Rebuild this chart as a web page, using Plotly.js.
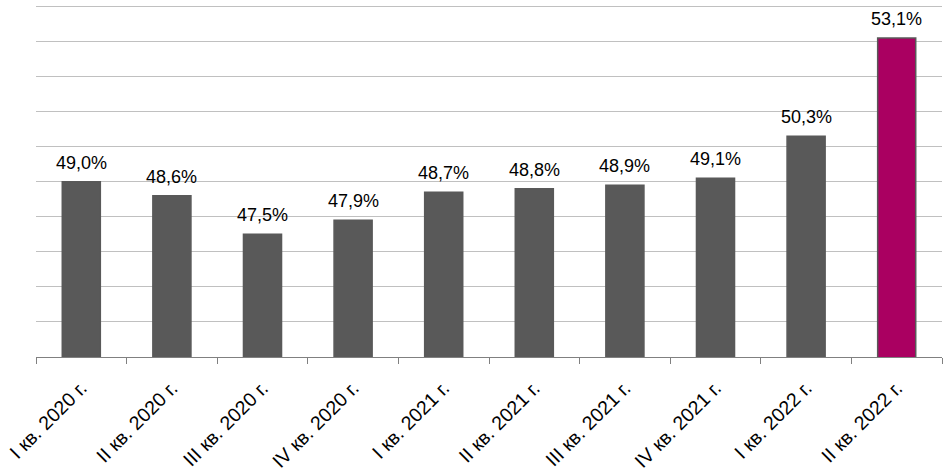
<!DOCTYPE html>
<html>
<head>
<meta charset="utf-8">
<script src="https://cdn.plot.ly/plotly-3.0.1.min.js"></script>
<style>html,body{margin:0;padding:0;background:#fff;}#chart{width:948px;height:472px;}</style>
</head>
<body>
<div id="chart"></div>
<script>
const categories = ["I кв. 2020 г.", "II кв. 2020 г.", "III кв. 2020 г.", "IV кв. 2020 г.", "I кв. 2021 г.", "II кв. 2021 г.", "III кв. 2021 г.", "IV кв. 2021 г.", "I кв. 2022 г.", "II кв. 2022 г."];
const values = [49.0, 48.6, 47.5, 47.9, 48.7, 48.8, 48.9, 49.1, 50.3, 53.1];
const labels = values.map(v => v.toFixed(1).replace('.', ',') + '%');
const colors = values.map((v, i) => i === values.length - 1 ? '#AA0061' : '#595959');

const FONT = 'Liberation Sans, Arial, sans-serif';

const trace = {
  type: 'bar',
  x: categories,
  y: values,
  marker: {color: colors, line: {color: '#595959', width: 1.5}},
  width: 0.42,
  hoverinfo: 'none'
};

const annotations = categories.map((c, i) => ({
  x: c, y: values[i], xref: 'x', yref: 'y',
  text: labels[i], showarrow: false,
  yanchor: 'bottom', yshift: 7,
  font: {family: FONT, size: 18, color: '#000'}
}));

const layout = {
  width: 948, height: 472,
  margin: {l: 36, r: 6, t: 2.5, b: 114.5},
  paper_bgcolor: '#fff', plot_bgcolor: '#fff',
  showlegend: false,
  font: {family: FONT, size: 18, color: '#000'},
  annotations: annotations,
  xaxis: {
    type: 'category',
    tickangle: -45,
    ticks: 'outside', tickson: 'boundaries', ticklen: 6, tickcolor: '#808080', tickwidth: 1,
    ticklabelstandoff: 11,
    showline: true, linecolor: '#808080', linewidth: 1,
    showgrid: false,
    tickfont: {family: FONT, size: 19.5, color: '#000'}
  },
  yaxis: {
    range: [44, 54.1], dtick: 1, tick0: 44,
    showticklabels: false, ticks: '',
    showgrid: true, gridcolor: '#C0C0C0', gridwidth: 1,
    zeroline: false, showline: false
  },
  bargap: 0.58
};

Plotly.newPlot('chart', [trace], layout, {displayModeBar: false, staticPlot: true});
</script>
</body>
</html>
